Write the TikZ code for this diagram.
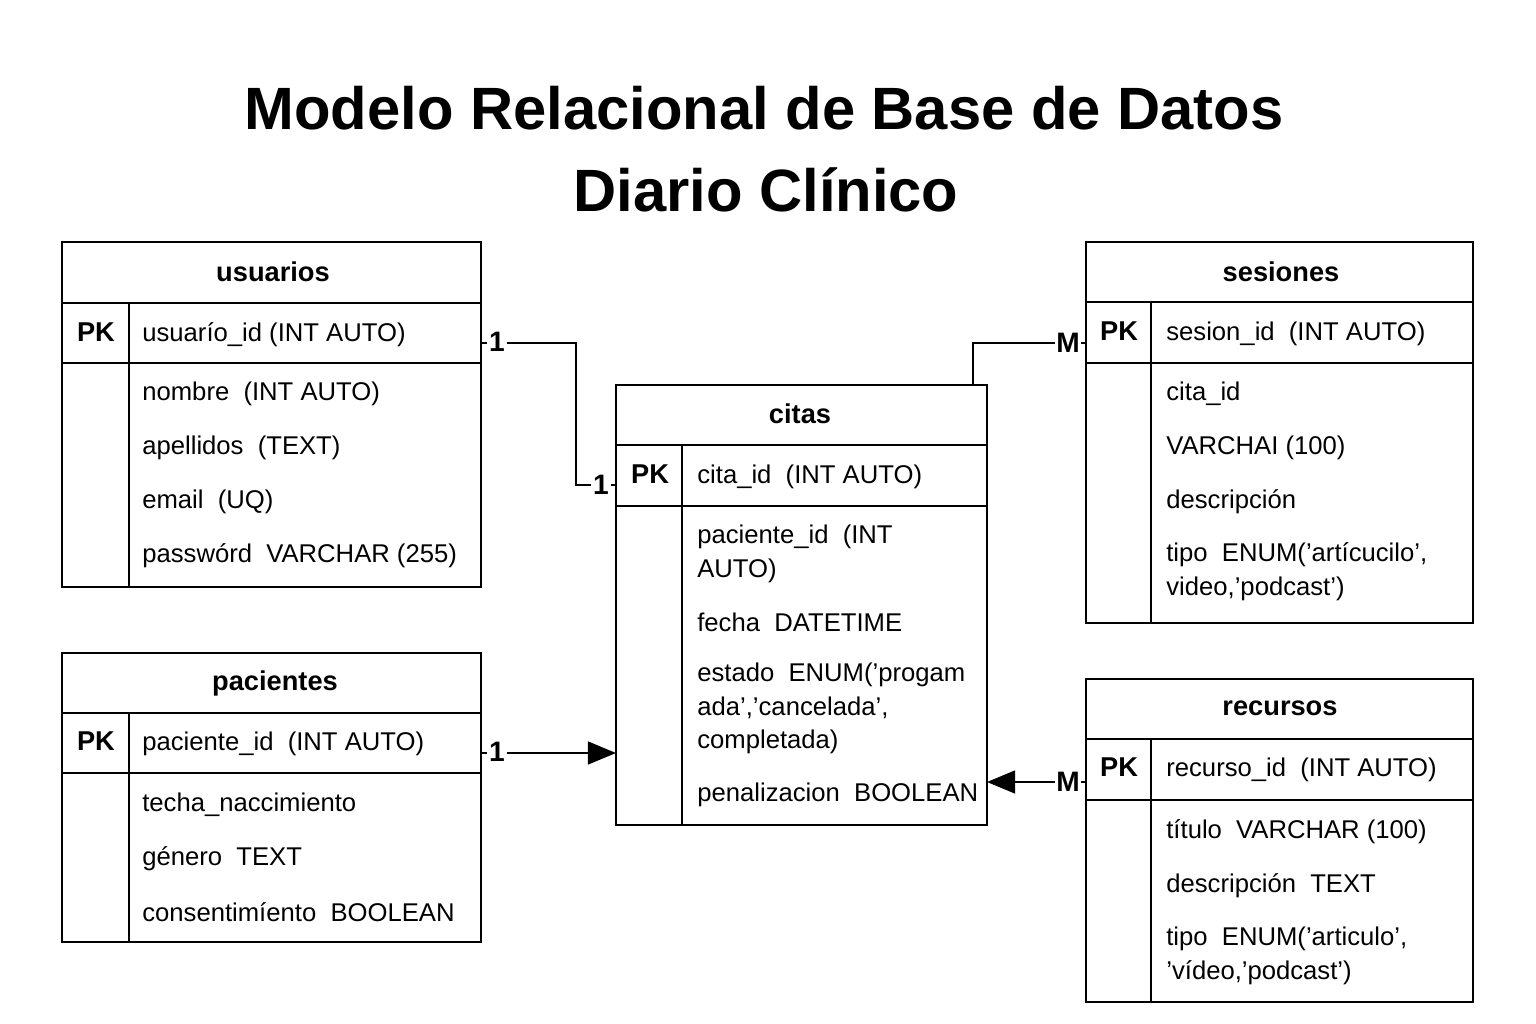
\documentclass[tikz,border=0pt]{standalone}
\usepackage{fontspec}
\setmainfont{Liberation Sans}
\usetikzlibrary{arrows.meta,positioning}
\tikzset{
    tbl/.style={
    rectangle,draw=black,line width=1.2pt,inner sep=0pt
    },
    hdr/.style={
    font=\fontsize{15.5}{18}\selectfont\bfseries
    },
    pk/.style={
    font=\fontsize{15.5}{18}\selectfont\bfseries
    },
    fld/.style={
    anchor=west,align=left,inner sep=0pt,yshift=-0.05cm,font=\fontsize{14.6}{19.2}\selectfont
    },
    card/.style={
    fill=white,inner sep=1pt,font=\fontsize{16}{18}\selectfont\bfseries
    },
    rel/.style={
    draw=black,line width=1.2pt
    },
}

\begin{document}
\begin{tikzpicture}[x=0.02cm, y=-0.02cm]
   \useasboundingbox (0,0) rectangle (1536,1024);
   \fill[white] (0,0) rectangle (1536,1024);

   \node[font=\fontsize{34}{40}\selectfont\bfseries] (title1) at (764,108) {Modelo Relacional de Base de Datos};
   \node[font=\fontsize{34}{40}\selectfont\bfseries] (title2) at (766,190) {Diario Clínico};

   % usuarios
   \node[tbl,minimum width=8.38cm,minimum height=6.9cm] (usu) at (271.5,414.5) {};
   \draw[line width=1.2pt] (62,303) -- (481,303) (62,363) -- (481,363) (129,303) -- (129,587);
   \node[hdr] (usuT) at (273,272) {usuarios};
   \node[pk] (usuP) at (96,332) {PK};
   \node[fld] (usuK) at (142,332) {usuarío\_id (INT AUTO)};
   \node[fld] (usuF1) at (142,391) {nombre\ \ (INT AUTO)};
   \node[fld] (usuF2) at (142,445) {apellidos\ \ (TEXT)};
   \node[fld] (usuF3) at (142,499) {email\ \ (UQ)};
   \node[fld] (usuF4) at (142,553) {passwórd\ \ VARCHAR (255)};

   % pacientes
   \node[tbl,minimum width=8.38cm,minimum height=5.78cm] (pac) at (271.5,797.5) {};
   \draw[line width=1.2pt] (62,713) -- (481,713) (62,773) -- (481,773) (129,713) -- (129,942);
   \node[hdr] (pacT) at (275,683) {pacientes};
   \node[pk] (pacP) at (96,741) {PK};
   \node[fld] (pacK) at (142,741) {paciente\_id\ \ (INT AUTO)};
   \node[fld] (pacF1) at (142,802) {techa\_naccimiento};
   \node[fld] (pacF2) at (142,856) {género\ \ TEXT};
   \node[fld] (pacF3) at (142,910) {consentimíento\ \ BOOLEAN};

   % citas
   \node[tbl,minimum width=7.42cm,minimum height=8.8cm] (cit) at (801.5,605) {};
   \draw[line width=1.2pt] (616,445) -- (987,445) (616,506) -- (987,506) (682,445) -- (682,825);
   \node[hdr] (citT) at (800,414) {citas};
   \node[pk] (citP) at (650,474) {PK};
   \node[fld] (citK) at (697,474) {cita\_id\ \ (INT AUTO)};
   \node[fld] (citF1) at (697,551) {paciente\_id\ \ (INT\\AUTO)};
   \node[fld] (citF2) at (697,620) {fecha\ \ DATETIME};
   \node[fld] (citF3) at (697,706) {estado\ \ ENUM(’progam\\ada’,’cancelada’,\\completada)};
   \node[fld] (citF4) at (697,792) {penalizacion\ \ BOOLEAN};

   % sesiones
   \node[tbl,minimum width=7.74cm,minimum height=7.62cm] (ses) at (1279.5,432.5) {};
   \draw[line width=1.2pt] (1086,302) -- (1473,302) (1086,363) -- (1473,363) (1151,302) -- (1151,623);
   \node[hdr] (sesT) at (1281,272) {sesiones};
   \node[pk] (sesP) at (1119,331) {PK};
   \node[fld] (sesK) at (1166,331) {sesion\_id\ \ (INT AUTO)};
   \node[fld] (sesF1) at (1166,391) {cita\_id};
   \node[fld] (sesF2) at (1166,445) {VARCHAI (100)};
   \node[fld] (sesF3) at (1166,499) {descripción};
   \node[fld] (sesF4) at (1166,569) {tipo\ \ ENUM(’artícucilo’,\\video,’podcast’)};

   % recursos
   \node[tbl,minimum width=7.74cm,minimum height=6.46cm] (rec) at (1279.5,840.5) {};
   \draw[line width=1.2pt] (1086,739) -- (1473,739) (1086,800) -- (1473,800) (1151,739) -- (1151,1002);
   \node[hdr] (recT) at (1280,708) {recursos};
   \node[pk] (recP) at (1119,767) {PK};
   \node[fld] (recK) at (1166,767) {recurso\_id\ \ (INT AUTO)};
   \node[fld] (recF1) at (1166,829) {título\ \ VARCHAR (100)};
   \node[fld] (recF2) at (1166,883) {descripción\ \ TEXT};
   \node[fld] (recF3) at (1166,953) {tipo\ \ ENUM(’articulo’,\\’vídeo,’podcast’)};

   % connector ends
   \coordinate (usuR) at (481,343);
   \coordinate (citL1) at (616,485);
   \coordinate (pacR) at (481,753);
   \coordinate (citL2) at (616,753);
   \coordinate (citTop) at (973,385);
   \coordinate (sesL) at (1086,343);
   \coordinate (recL) at (1086,782);
   \coordinate (citR) at (987,782);

   \draw[rel] (usuR) -- (576,343) -- (576,485) -- (citL1);
   \draw[rel] (citTop) -- (973,343) -- (sesL);
   \draw[rel,-{Triangle[length=16pt,width=13pt]}] (pacR) -- (citL2);
   \draw[rel,-{Triangle[length=16pt,width=13pt]}] (recL) -- (citR);

   \node[card] (n1) at (497,342) {1};
   \node[card] (n2) at (601,485) {1};
   \node[card] (n3) at (497,752) {1};
   \node[card] (m1) at (1068,343) {M};
   \node[card] (m2) at (1068,782) {M};
\end{tikzpicture}
\end{document}
